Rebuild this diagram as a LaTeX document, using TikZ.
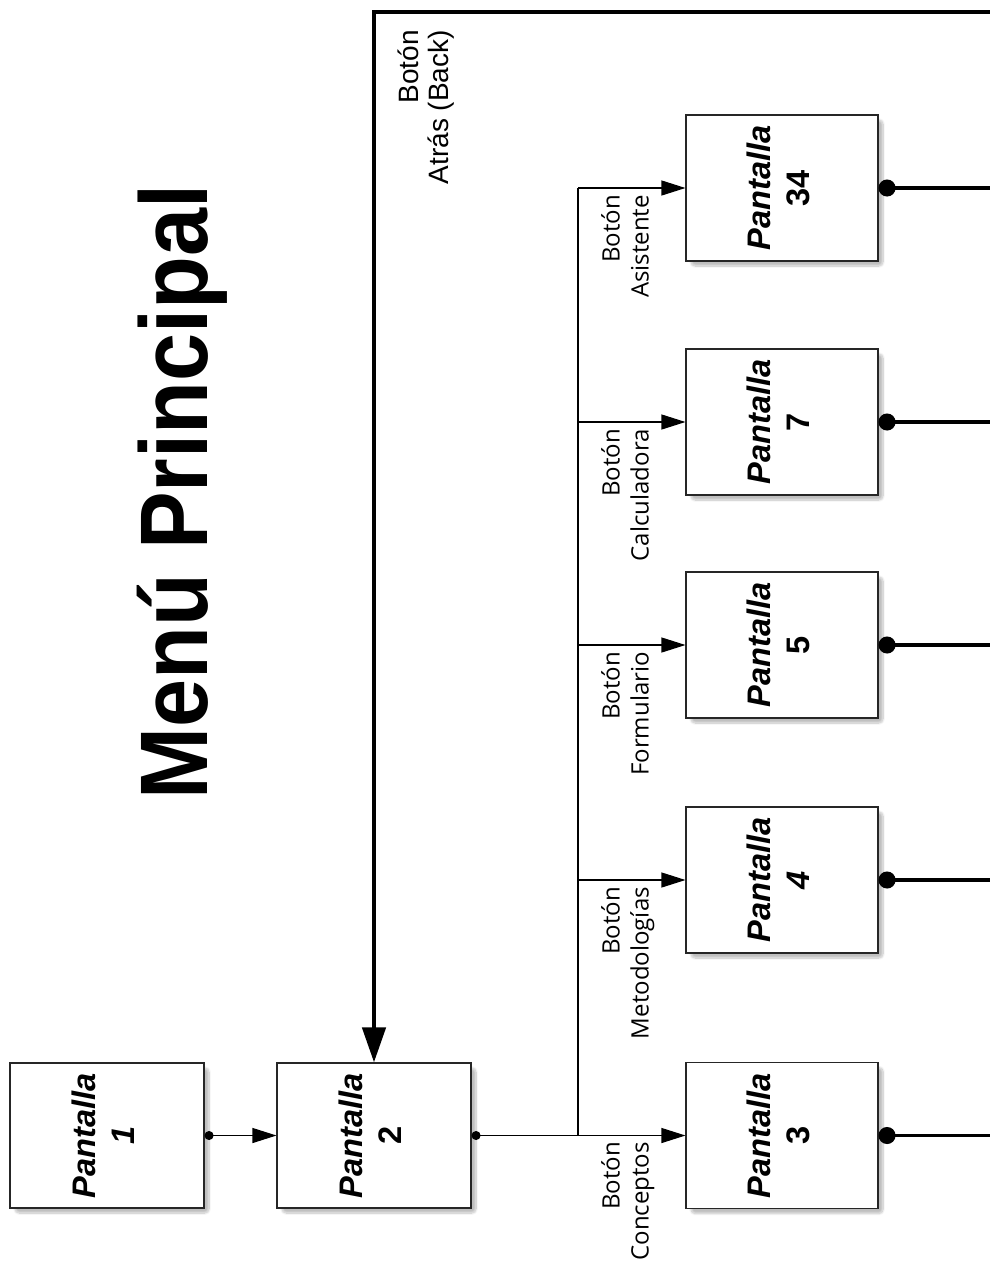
\documentclass[tikz,border=0pt]{standalone}
\usepackage{fontspec}
\setmainfont{Liberation Sans}
\newfontfamily\lblfont{Open Sans}
\usetikzlibrary{arrows.meta,shadows.blur}

\newcommand{\pant}[1]{\rotatebox{90}{\fontsize{32.6}{39}\selectfont\bfseries
  \begin{tabular}{@{}c@{}}\itshape Pantalla\\#1\end{tabular}}}

\begin{document}
\begin{tikzpicture}[x=1pt,y=-1pt]
  \tikzstyle{screen}=[draw=black!85,line width=1.1pt,fill=white,minimum width=194pt,minimum height=145pt,inner sep=0pt,
    blur shadow={shadow xshift=5pt,shadow yshift=-5pt,shadow blur steps=10,shadow blur extra rounding=4pt,shadow opacity=25}]
  \tikzstyle{link}=[line width=1.1pt,-{Triangle[length=24pt,width=15pt]}]
  \tikzstyle{dotlink}=[line width=1.1pt,{Circle[length=9pt]}-{Triangle[length=24pt,width=15pt]}]
  \tikzstyle{exit}=[line width=3.5pt,{Circle[length=17pt]}-]
  \tikzstyle{back}=[line width=4.5pt,line join=miter,-{Triangle[length=35pt,width=23pt]}]
  \tikzstyle{btn}=[rotate=90,anchor=north east,align=right,inner sep=0pt,font=\lblfont\fontsize{24}{29}\selectfont]
  \useasboundingbox (0,0) rectangle (990,1267);

  \node[rotate=90,anchor=base,inner sep=0pt] (title) at (207,492)
    {\fontsize{96}{96}\selectfont\bfseries\scalebox{0.9}[1]{Menú Principal}};

  \node[screen] (P_1) at (107,1135.5) {\pant{\itshape 1}};
  \node[screen] (P_2) at (374,1135.5) {\pant{2}};
  \node[screen,minimum width=192pt,minimum height=146pt] (P_34) at (782,188) {\pant{34}};
  \node[screen,minimum width=192pt,minimum height=146pt] (P_7) at (782,422) {\pant{7}};
  \node[screen,minimum width=192pt,minimum height=146pt] (P_5) at (782,645) {\pant{5}};
  \node[screen,minimum width=192pt,minimum height=146pt] (P_4) at (782,880) {\pant{\itshape 4}};
  \node[screen,minimum width=192pt,minimum height=146pt] (P_3) at (782,1135.5) {\pant{3}};

  \coordinate (T_top) at (578,188);
  \coordinate (T_bot) at (578,1135.5);

  \draw[dotlink] (P_1.east) -- (P_2.west);
  \draw[line width=1.1pt,{Circle[length=9pt]}-] (P_2.east) -- (T_bot);
  \draw[line width=1.1pt] (T_bot) -- (T_top);

  \draw[link] (T_bot) -- (P_3.west);
  \draw[link] (P_4.west -| T_bot) -- (P_4.west);
  \draw[link] (P_5.west -| T_bot) -- (P_5.west);
  \draw[link] (P_7.west -| T_bot) -- (P_7.west);
  \draw[link] (T_top) -- (P_34.west);

  \node[btn] (b_3) at (601,1142) {Botón\\Conceptos};
  \node[btn] (b_4) at (601,887) {Botón\\Metodologías};
  \node[btn] (b_5) at (601,652) {Botón\\Formulario};
  \node[btn] (b_7) at (601,429) {Botón\\Calculadora};
  \node[btn] (b_34) at (601,195) {Botón\\Asistente};

  \coordinate (E_34) at (990,188);
  \coordinate (E_7) at (990,422);
  \coordinate (E_5) at (990,645);
  \coordinate (E_4) at (990,880);
  \coordinate (E_3) at (990,1135.5);
  \draw[exit] (P_34.east) -- (E_34);
  \draw[exit] (P_7.east) -- (E_7);
  \draw[exit] (P_5.east) -- (E_5);
  \draw[exit] (P_4.east) -- (E_4);
  \draw[exit] (P_3.east) -- (E_3);

  \coordinate (B_1) at (992,12);
  \coordinate (B_2) at (374,12);
  \draw[back] (B_1) -- (B_2) -- (P_2.north);
  \node[rotate=90,anchor=north east,align=right,inner sep=0pt,font=\fontsize{28}{30}\selectfont] (b_back) at (398,30)
    {Botón\\Atrás (Back)};
\end{tikzpicture}
\end{document}
